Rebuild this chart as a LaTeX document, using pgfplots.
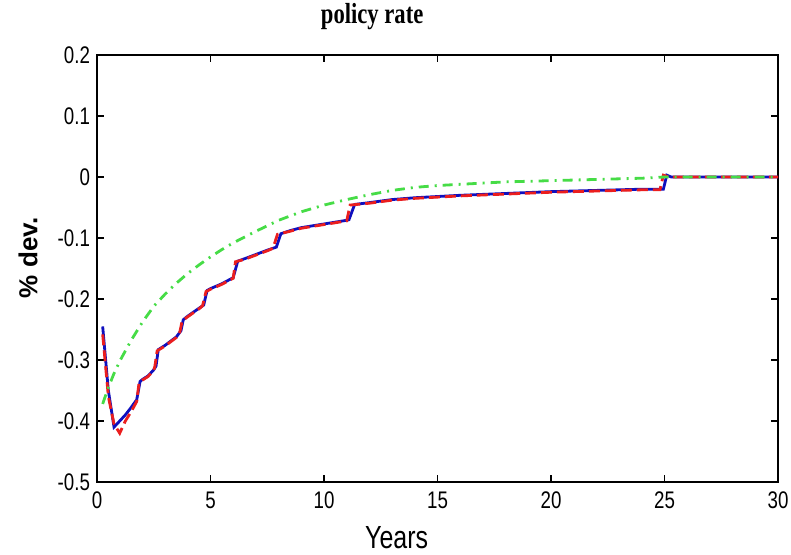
\documentclass[border=0pt]{standalone}
\usepackage{fontspec}
\setmainfont{Liberation Sans}[FakeStretch=0.78]
\newfontfamily\labfont{Liberation Sans}
\newfontfamily\titlefont{Liberation Serif}[FakeStretch=0.78]
\usepackage{pgfplots}
\pgfplotsset{compat=1.18}
\definecolor{mblue}{RGB}{15,15,190}
\definecolor{mred}{RGB}{235,30,30}
\definecolor{mgreen}{RGB}{70,220,70}
\begin{document}
\begin{tikzpicture}
\begin{axis}[
  scale only axis, width=340.5pt, height=213.5pt,
  xmin=0, xmax=30, ymin=-0.5, ymax=0.2,
  xtick={0,5,...,30},
  ytick={-0.5,-0.4,-0.3,-0.2,-0.1,0,0.1,0.2},
  tick align=inside,
  major tick length=3.5pt,
  axis line style={line width=0.7pt},
  every tick/.style={black, line width=0.6pt},
  ticklabel style={font=\fontsize{12}{12}\selectfont},
  /pgf/number format/assume math mode=true,
  xticklabel style={yshift=-1.5pt},
  xlabel={Years},
  xlabel style={at={(rel axis cs:0.44,-0.1546)}, anchor=base, font=\fontsize{16}{16}\selectfont},
  ylabel={\% dev.},
  ylabel style={at={(rel axis cs:-0.1013,0.525)}, anchor=center, font=\labfont\bfseries\fontsize{13}{13}\selectfont},
  title={policy rate},
  title style={at={(rel axis cs:0.404,1.0457)}, anchor=base, font=\titlefont\bfseries\fontsize{14.5}{14.5}\selectfont},
]
\coordinate (bl) at (rel axis cs:0,0);
\coordinate (tr) at (rel axis cs:1,1);
% model 1 (blue, solid)
\addplot[mblue, line width=1.4pt] coordinates {
(0.25,-0.245) (0.5,-0.35) (0.75,-0.41) (1.0,-0.40) (1.25,-0.39) (1.5,-0.378)
(1.75,-0.365) (1.9,-0.335) (2.0,-0.332) (2.25,-0.326) (2.5,-0.316) (2.6,-0.31)
(2.7,-0.283) (3.0,-0.276) (3.5,-0.262) (3.7,-0.252) (3.8,-0.234) (4.0,-0.228)
(4.5,-0.215) (4.7,-0.21) (4.85,-0.186) (5.0,-0.183) (5.5,-0.175) (6.0,-0.165)
(6.2,-0.138) (6.5,-0.134) (7,-0.127) (7.5,-0.12) (7.9,-0.115) (8.1,-0.093)
(8.5,-0.088) (9,-0.083) (10,-0.077) (11,-0.071) (11.1,-0.070) (11.35,-0.045)
(12,-0.042) (13,-0.037) (14,-0.034) (15,-0.032) (16,-0.030) (18,-0.027)
(20,-0.024) (22,-0.022) (24,-0.020) (24.95,-0.020) (25.1,0.003) (25.3,0) (30,0)
};
% model 2 (red, dashed)
\addplot[mred, line width=1.4pt, dash pattern=on 5.5pt off 2.5pt] coordinates {
(0.25,-0.258) (0.5,-0.36) (0.75,-0.405) (1.0,-0.42) (1.25,-0.40) (1.5,-0.385)
(1.75,-0.368) (1.85,-0.338) (2.0,-0.333) (2.25,-0.327) (2.5,-0.317) (2.55,-0.31)
(2.65,-0.285) (3.0,-0.277) (3.5,-0.263) (3.65,-0.254) (3.75,-0.236) (4.0,-0.229)
(4.5,-0.216) (4.65,-0.211) (4.8,-0.188) (5.0,-0.184) (5.5,-0.176) (6.0,-0.166)
(6.1,-0.139) (6.5,-0.135) (7,-0.128) (7.5,-0.121) (7.75,-0.117) (7.95,-0.094)
(8.5,-0.089) (9,-0.084) (10,-0.078) (11,-0.072) (11.15,-0.046)
(12,-0.043) (13,-0.038) (14,-0.035) (15,-0.033) (16,-0.031) (18,-0.028)
(20,-0.025) (22,-0.023) (24,-0.021) (24.8,-0.021) (24.95,0.003) (25.2,0) (30,0)
};
% model 3 (green, dash-dot)
\addplot[mgreen, line width=1.4pt, dash pattern=on 5pt off 3pt on 1pt off 3pt] coordinates {
(0.25,-0.372) (0.5,-0.345) (0.75,-0.322) (1,-0.302) (1.5,-0.268) (2,-0.238)
(2.5,-0.212) (3,-0.192) (3.5,-0.174) (4,-0.158) (4.5,-0.144) (5,-0.131)
(5.5,-0.119) (6,-0.108) (7,-0.089) (8,-0.071) (9,-0.057) (10,-0.046)
(11,-0.037) (12,-0.029) (13,-0.022) (14,-0.017) (15,-0.014) (16,-0.012)
(18,-0.008) (20,-0.006) (22,-0.004) (24,-0.002) (25,0) (30,0)
};
\end{axis}
\pgfresetboundingbox
\path ([shift={(-48.5pt,-36.5pt)}]bl) rectangle ([shift={(6.5pt,27.5pt)}]tr);
\end{tikzpicture}
\end{document}
